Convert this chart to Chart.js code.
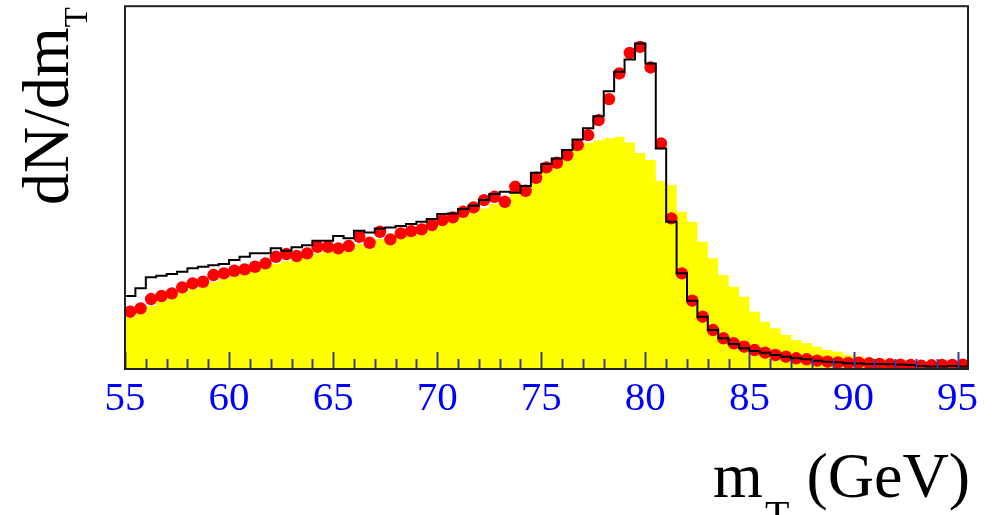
<!DOCTYPE html>
<html>
<head>
<meta charset="utf-8">
<script src="https://cdn.jsdelivr.net/npm/chart.js@4.4.1/dist/chart.umd.min.js"></script>
<style>
  html, body { margin: 0; padding: 0; background: #fff; }
  #wrap { width: 997px; height: 515px; position: relative; }
</style>
</head>
<body>
<div id="wrap"><canvas id="mtChart"></canvas></div>
<script>
// m_T bins: 0.5 GeV wide, 55 -> 95.5 GeV (left edges + final right edge)
const binEdges = Array.from({ length: 82 }, (_, i) => 55 + 0.5 * i);
const xTickValues = [55, 60, 65, 70, 75, 80, 85, 90, 95];

// yellow filled histogram
const yellowHist = [52, 56, 63, 68, 72, 76, 80, 83.5, 87, 90,
  93, 96, 99, 102, 105, 108, 110.5, 113, 115.5, 118,
  120, 122.5, 125, 127.5, 130, 132, 134, 136.5, 139, 142,
  145, 148.5, 152, 156, 160.5, 165, 170, 175.5, 182, 190,
  199, 206, 213, 221, 226, 229, 231, 232.5, 226.5, 216,
  209, 188, 184, 157.3, 147.3, 127.3, 110.7, 94, 82.3, 72.3,
  57.3, 47.3, 40.7, 34, 29, 25.7, 22.3, 19, 17.3, 14,
  12.5, 11, 9.7, 8.5, 7.5, 6.5, 5.5, 5, 4.5, 4,
  3.5];

// black outline histogram
const blackHist = [73, 80.7, 91.7, 93.3, 95, 97.3, 100.7, 102.3, 103.7, 105,
  109, 112.3, 115.7, 115.7, 120.7, 118.3, 121.7, 123.7, 128.3, 128.3,
  133, 130.7, 138.3, 136.7, 140.7, 141.7, 143, 145, 147.3, 150,
  155, 155.7, 160, 163.3, 169, 175, 177.3, 176.3, 183, 196.3,
  205, 210.7, 219, 229.7, 241, 253, 278, 297.3, 309.7, 325.7,
  305.7, 220.7, 147.3, 95.7, 68.3, 52.3, 39, 30.7, 25, 20.7,
  18, 16.3, 14, 12.3, 10.7, 9.7, 8.3, 7.3, 6.7, 5.7,
  5.5, 5, 5, 4.7, 4.5, 4, 3, 2.5, 2.5, 3,
  2.5];

// red points (bin centres)
const redPoints = [57.3, 60.7, 70, 73, 75.7, 81.7, 85.7, 87.3, 94, 95.7,
  98.3, 99.7, 102.3, 105.7, 112.3, 115, 113, 115.7, 122.3, 122.3,
  120.7, 123, 132.3, 126.3, 137.3, 129.7, 135.7, 138, 139.7, 144,
  149, 151.7, 157.3, 161.7, 169, 172.3, 167.3, 182.3, 178.3, 191.3,
  201.7, 206.3, 214, 224, 234, 249, 270, 295.7, 316.3, 322.3,
  301.7, 225.7, 150.7, 95.7, 68.3, 52.3, 39, 30.7, 25.7, 22.3,
  19, 16.3, 14, 12.3, 10.7, 9.7, 8.3, 7.3, 6.5, 6,
  6.3, 5.7, 5, 4.7, 4.3, 4, 3.3, 3.7, 4, 4,
  4.3];

function stepPoints(vals) {
  const pts = vals.map((v, i) => ({ x: binEdges[i], y: v }));
  pts.push({ x: binEdges[vals.length], y: vals[vals.length - 1] });
  return pts;
}

const serif = "'Liberation Serif', 'DejaVu Serif', serif";

const decor = {
  id: 'decor',
  afterDatasetsDraw(chart) {
    const { ctx, chartArea: a, scales: { x } } = chart;
    ctx.save();
    // ticks pointing into the frame
    ctx.strokeStyle = '#3c3c96';
    ctx.lineWidth = 2;
    for (let v = 55; v <= 95; v++) {
      const px = Math.round(x.getPixelForValue(v)) + 0.5;
      const len = v % 5 === 0 ? 17 : 10;
      ctx.beginPath();
      ctx.moveTo(px, a.bottom);
      ctx.lineTo(px, a.bottom - len);
      ctx.stroke();
    }
    // frame
    ctx.strokeStyle = '#222';
    ctx.lineWidth = 2;
    ctx.strokeRect(a.left, a.top, a.right - a.left, a.bottom - a.top);
    ctx.restore();
  },
  afterDraw(chart) {
    const { ctx } = chart;
    ctx.save();
    ctx.fillStyle = '#000';
    ctx.textBaseline = 'alphabetic';

    // y title: dN/dm_T, rotated
    ctx.translate(68, 205);
    ctx.rotate(-Math.PI / 2);
    ctx.font = '66px ' + serif;
    const w1 = ctx.measureText('dN/dm').width;
    ctx.font = '34px ' + serif;
    const w2 = ctx.measureText('T').width;
    ctx.scale(198 / (w1 + w2), 1);
    ctx.font = '66px ' + serif;
    ctx.fillText('dN/dm', 0, 0);
    ctx.font = '34px ' + serif;
    ctx.fillText('T', w1, 19);
    ctx.restore();

    // x title: m_T (GeV)
    ctx.save();
    ctx.fillStyle = '#000';
    ctx.font = '64px ' + serif;
    ctx.textAlign = 'left';
    ctx.fillText('m', 713, 497);
    ctx.font = '40px ' + serif;
    ctx.fillText('T', 765, 528);
    ctx.font = '64px ' + serif;
    ctx.textAlign = 'right';
    ctx.fillText('(GeV)', 970, 497);
    ctx.restore();
  }
};

new Chart(document.getElementById('mtChart'), {
  type: 'line',
  data: {
    datasets: [
      {
        label: 'outline',
        data: stepPoints(blackHist),
        stepped: true,
        borderColor: '#000',
        borderWidth: 2,
        pointRadius: 0,
        fill: false,
        order: 1
      },
      {
        label: 'data',
        type: 'scatter',
        data: redPoints.map((v, i) => ({ x: binEdges[i] + 0.25, y: v })),
        backgroundColor: '#ff0000',
        borderWidth: 0,
        pointRadius: 6.2,
        showLine: false,
        order: 2
      },
      {
        label: 'filled',
        data: stepPoints(yellowHist),
        stepped: true,
        borderWidth: 0,
        borderColor: 'rgba(0,0,0,0)',
        backgroundColor: '#ffff00',
        pointRadius: 0,
        fill: 'origin',
        order: 3
      }
    ]
  },
  options: {
    responsive: true,
    maintainAspectRatio: false,
    animation: false,
    layout: { padding: { left: 125, right: 29, top: 6, bottom: 0 } },
    plugins: { legend: { display: false }, tooltip: { enabled: false } },
    scales: {
      x: {
        type: 'linear',
        min: 55,
        max: 95.5,
        grid: { display: false },
        border: { display: false },
        afterBuildTicks: s => { s.ticks = xTickValues.map(v => ({ value: v })); },
        afterFit: s => { s.height = 146; },
        ticks: {
          autoSkip: false,
          maxRotation: 0,
          padding: -2,
          color: '#0000ff',
          font: { family: serif, size: 41 }
        }
      },
      y: {
        display: false,
        min: 0,
        max: 363
      }
    }
  },
  plugins: [decor]
});
</script>
</body>
</html>
